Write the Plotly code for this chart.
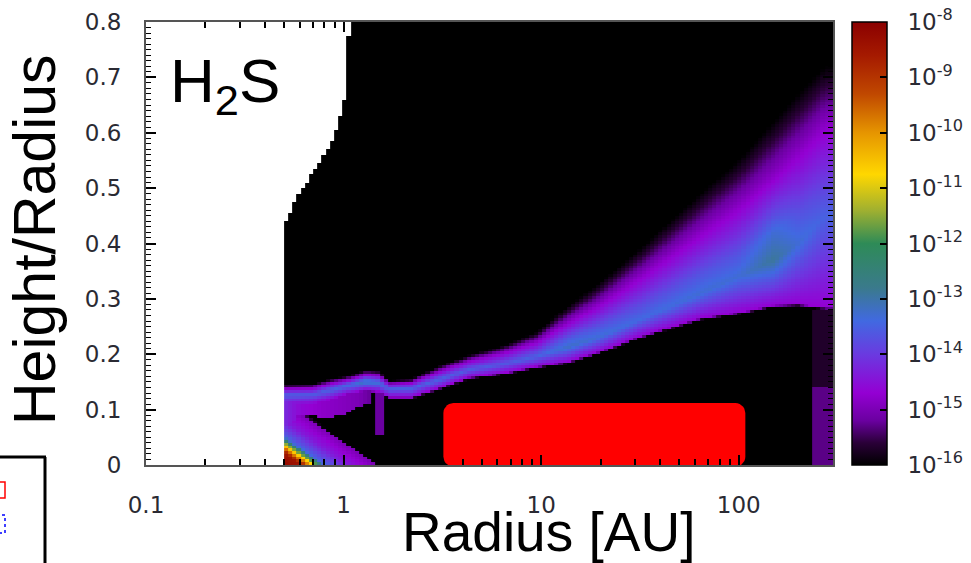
import numpy as np
import plotly.graph_objects as go

# ---------------- values ----------------
# colour-bar decades (log10 of the fractional abundance)
CBAR_DECADES = [-16, -15, -14, -13, -12, -11, -10, -9, -8]
X_TICKS = [0.1, 1, 10, 100]
X_TICK_TEXT = ["0.1", "1", "10", "100"]
X_MINOR = [0.2, 0.3, 0.4, 0.5, 0.6, 0.7, 0.8, 0.9,
           2, 3, 4, 5, 6, 7, 8, 9, 20, 30, 40, 50, 60, 70, 80, 90, 200, 300]
Y_TICKS = [0, 0.1, 0.2, 0.3, 0.4, 0.5, 0.6, 0.7, 0.8]
Y_TICK_TEXT = ["0", "0.1", "0.2", "0.3", "0.4", "0.5", "0.6", "0.7", "0.8"]

# main molecular layer (per radius node): lower edge, ridge, fading top (z/r), ridge log-abundance
LAYER_R    = [0.5, 0.7, 0.85, 1.04, 1.3, 1.5, 1.7, 2.2, 3.0, 4.3, 6.4, 9.5, 13.5, 20, 31.6, 64, 100, 150, 200, 274, 300]
LAYER_LOW  = [0.108, 0.110, 0.118, 0.128, 0.135, 0.132, 0.123, 0.123, 0.138, 0.158, 0.166, 0.178, 0.186, 0.205, 0.232, 0.265, 0.275, 0.288, 0.290, 0.284, 0.284]
LAYER_MID  = [0.126, 0.127, 0.135, 0.143, 0.150, 0.148, 0.137, 0.138, 0.153, 0.172, 0.182, 0.196, 0.212, 0.232, 0.262, 0.310, 0.340, 0.370, 0.400, 0.450, 0.450]
LAYER_TOP  = [0.145, 0.146, 0.155, 0.160, 0.172, 0.170, 0.152, 0.155, 0.178, 0.198, 0.215, 0.240, 0.285, 0.330, 0.390, 0.490, 0.550, 0.620, 0.670, 0.720, 0.720]
LAYER_PEAK = [-13.5, -13.6, -13.5, -13.4, -13.1, -13.3, -13.5, -13.5, -13.5, -13.6, -13.6, -13.5, -13.2, -13.3, -13.4, -13.3, -13.3, -12.9, -13.3, -13.5, -13.5]
LAYER_EDGE_LOG = -14.7      # value right at the sharp lower edge
LAYER_SHOULDER_LOG = -14.8  # bright violet shoulder above the ridge
LAYER_SHOULDER_FRAC = 0.6   # where the shoulder sits between ridge and top

# warm inner corner at the midplane (normalised distance from the corner -> log abundance)
CORNER_R_SPAN = [0.5, 1.45]
CORNER_Z_SPAN = 0.115
CORNER_S   = [0.0, 0.20, 0.27, 0.32, 0.37, 0.45, 0.70, 1.0, 1.04]
CORNER_LOG = [-8.2, -8.5, -9.8, -10.8, -12.0, -13.5, -14.4, -15.0, -17.0]

# purple shelf just below the layer inside ~1.4 AU
SHELF_R   = [0.5, 0.6, 0.8, 1.0, 1.2, 1.35, 1.42]
SHELF_LOW = [0.060, 0.092, 0.085, 0.090, 0.105, 0.112, 0.140]
SHELF_LOG = [-14.2, -14.6, -14.8, -14.9, -15.0, -15.2, -17.0]

# thin vertical streak near 1.5 AU
STREAK_R = [1.45, 1.6]
STREAK_Z = [0.055, 0.135]
STREAK_LOG = -15.2

# faint outer strip at the disk edge
OUTER_R = [230, 300]
OUTER_Z = [0.14, 0.28]
OUTER_LOG = [-15.3, -15.7]

# upper boundary of the model grid (white above it)
EDGE_R = [0.5, 0.535, 0.58, 0.62, 0.70, 0.76, 0.82, 0.88, 0.935, 1.01, 1.07]
EDGE_Z = [0.434, 0.452, 0.483, 0.50, 0.528, 0.547, 0.567, 0.588, 0.615, 0.66, 0.80]

BACKGROUND_LOG = -17.0

# red box overlay
RED_BOX_X = [3.2, 108]
RED_BOX_Y = [-0.003, 0.112]

# ---------------- model grid ----------------
R_MIN, R_MAX, N_R = 0.5, 300, 132
r_edges = np.logspace(np.log10(R_MIN), np.log10(R_MAX), N_R + 1)
z_edges = np.linspace(0, 0.8, 161)
rc = np.sqrt(r_edges[:-1] * r_edges[1:])
zc = 0.5 * (z_edges[:-1] + z_edges[1:])
lr = np.log10(rc)

Z = np.full((zc.size, rc.size), BACKGROUND_LOG)
lR = np.log10(LAYER_R)
for i, l in enumerate(lr):
    zl = np.interp(l, lR, LAYER_LOW)
    zm = np.interp(l, lR, LAYER_MID)
    zt = np.interp(l, lR, LAYER_TOP)
    pk = np.interp(l, lR, LAYER_PEAK)
    zq = zm + 0.2 * (zt - zm)
    zs = zm + LAYER_SHOULDER_FRAC * (zt - zm)
    band = np.interp(zc, [zl - 0.006, zl, zm, zq, zs, zt, zt + 0.02],
                     [BACKGROUND_LOG, LAYER_EDGE_LOG, pk, pk - 0.4,
                      LAYER_SHOULDER_LOG, -16.0, BACKGROUND_LOG])
    col = np.maximum(Z[:, i], band)

    # corner
    u = np.log10(rc[i] / CORNER_R_SPAN[0]) / np.log10(CORNER_R_SPAN[1] / CORNER_R_SPAN[0])
    s = u + zc / CORNER_Z_SPAN
    col = np.maximum(col, np.interp(s, CORNER_S, CORNER_LOG))

    # shelf
    if rc[i] <= SHELF_R[-1]:
        low = np.interp(l, np.log10(SHELF_R), SHELF_LOW)
        val = np.interp(l, np.log10(SHELF_R), SHELF_LOG)
        m = (zc >= low) & (zc <= zl + 0.005)
        col[m] = np.maximum(col[m], val)

    # streak
    if STREAK_R[0] <= rc[i] <= STREAK_R[1]:
        m = (zc >= STREAK_Z[0]) & (zc <= STREAK_Z[1])
        col[m] = np.maximum(col[m], STREAK_LOG)

    # outer strip
    if rc[i] >= OUTER_R[0]:
        m0 = zc <= OUTER_Z[0]
        col[m0] = np.maximum(col[m0], OUTER_LOG[0])
        m = (zc > OUTER_Z[0]) & (zc <= OUTER_Z[1])
        col[m] = np.maximum(col[m], OUTER_LOG[1])

    # white above the grid edge
    zmax = np.interp(l, np.log10(EDGE_R), EDGE_Z)
    col = col.astype(float)
    col[zc > zmax] = np.nan
    Z[:, i] = col

colorscale = [
    [0.000, "#000000"],
    [0.050, "#2a0038"],
    [0.100, "#6a00a0"],
    [0.1625, "#9400d3"],
    [0.250, "#6a3ae0"],
    [0.325, "#4169e1"],
    [0.400, "#3a7a8c"],
    [0.500, "#2e8b57"],
    [0.575, "#a0b030"],
    [0.656, "#ffd700"],
    [0.750, "#e69500"],
    [0.8375, "#c04800"],
    [0.925, "#a51a00"],
    [1.000, "#8b0000"],
]

# plot area geometry (pixels) used for paper conversions of decorations
L, T, W, H = 146, 22, 687, 443
def pp(px, py):
    return (px - L) / W, (T + H - py) / H

NBSP = "\u00a0"
fig = go.Figure()
fig.add_trace(go.Heatmap(
    x=r_edges, y=z_edges, z=Z, zmin=-16, zmax=-8,
    colorscale=colorscale, hoverinfo="skip",
    colorbar=dict(
        x=pp(852, 0)[0], xanchor="left", y=0.5, yanchor="middle",
        thickness=35, thicknessmode="pixels", len=H, lenmode="pixels",
        outlinecolor="black", outlinewidth=1.5, xpad=0, ypad=0,
        tickvals=CBAR_DECADES,
        ticktext=[NBSP * 2 + "10<sup>%d</sup>" % d for d in CBAR_DECADES],
        ticks="inside", ticklen=7, tickcolor="black", tickwidth=2,
        tickfont=dict(family="DejaVu Sans", size=23, color="#2a2a33"),
    ),
))

# rounded red box in log-x / linear-y space
rx = 10 / (W / np.log10(R_MAX / 0.1))
ry = 10 / (H / 0.8)
lx0, lx1 = np.log10(RED_BOX_X[0]), np.log10(RED_BOX_X[1])
y0, y1 = RED_BOX_Y
pts = []
for cx, cy, a0 in [(lx1 - rx, y1 - ry, 0), (lx0 + rx, y1 - ry, 90),
                   (lx0 + rx, y0 + ry, 180), (lx1 - rx, y0 + ry, 270)]:
    for a in np.linspace(a0, a0 + 90, 8):
        pts.append((cx + rx * np.cos(np.radians(a)), cy + ry * np.sin(np.radians(a))))
bx = [10 ** p[0] for p in pts] + [10 ** pts[0][0]]
by = [p[1] for p in pts] + [pts[0][1]]
fig.add_trace(go.Scatter(x=bx, y=by, fill="toself", fillcolor="#ff0000",
                         line=dict(width=0, color="#ff0000"), mode="lines",
                         hoverinfo="skip", showlegend=False))

axis_common = dict(showline=True, linecolor="#555555", linewidth=2, mirror="ticks",
                   ticks="inside", tickcolor="black", tickwidth=2, showgrid=False,
                   zeroline=False,
                   tickfont=dict(family="DejaVu Sans", size=23, color="#2a2a33"))

fig.update_xaxes(type="log", range=[-1, np.log10(R_MAX)], tickvals=X_TICKS,
                 ticktext=X_TICK_TEXT, ticklen=10, ticklabelstandoff=18,
                 minor=dict(tickvals=X_MINOR, ticks="inside", ticklen=6,
                            tickcolor="black", tickwidth=1.5),
                 **axis_common)
fig.update_yaxes(range=[0, 0.8], tickvals=Y_TICKS, ticktext=Y_TICK_TEXT, ticklen=10,
                 ticklabelstandoff=18,
                 minor=dict(dtick=0.01, ticks="inside", ticklen=5,
                            tickcolor="black", tickwidth=1.2),
                 **axis_common)

annotations = [
    dict(text="Radius [AU]", xref="paper", yref="paper", x=pp(548, 0)[0],
         y=pp(0, 532)[1], xanchor="center", yanchor="middle", showarrow=False,
         font=dict(family="Liberation Sans", size=55, color="black")),
    dict(text="Height/Radius", xref="paper", yref="paper", x=pp(35, 0)[0],
         y=pp(0, 240)[1], xanchor="center", yanchor="middle", showarrow=False,
         textangle=-90, font=dict(family="Liberation Sans", size=59, color="black")),
    dict(text="H<sub>2</sub>S", xref="paper", yref="paper", x=pp(168, 0)[0],
         y=pp(0, 85)[1], xanchor="left", yanchor="middle", showarrow=False,
         font=dict(family="Liberation Sans", size=62, color="black")),
]

# fragment of a neighbouring panel at the bottom-left corner
shapes = []
def seg(x0, y0_, x1, y1_, **line):
    a, b = pp(x0, y0_), pp(x1, y1_)
    shapes.append(dict(type="line", xref="paper", yref="paper",
                       x0=a[0], y0=a[1], x1=b[0], y1=b[1], line=line))
def box(x0, y0_, x1, y1_, **line):
    a, b = pp(x0, y0_), pp(x1, y1_)
    shapes.append(dict(type="rect", xref="paper", yref="paper",
                       x0=a[0], y0=a[1], x1=b[0], y1=b[1], line=line))
seg(-2, 457, 46, 457, color="black", width=3)
seg(45, 457, 45, 570, color="black", width=3)
box(-4, 482, 5, 498, color="red", width=1.5)
box(-4, 515, 5, 533, color="blue", width=1.5, dash="dot")

fig.update_layout(
    width=971, height=563,
    margin=dict(l=L, r=971 - L - W, t=T, b=563 - T - H, autoexpand=False),
    paper_bgcolor="white", plot_bgcolor="white",
    showlegend=False, annotations=annotations, shapes=shapes,
)

fig.write_html("out.html")
